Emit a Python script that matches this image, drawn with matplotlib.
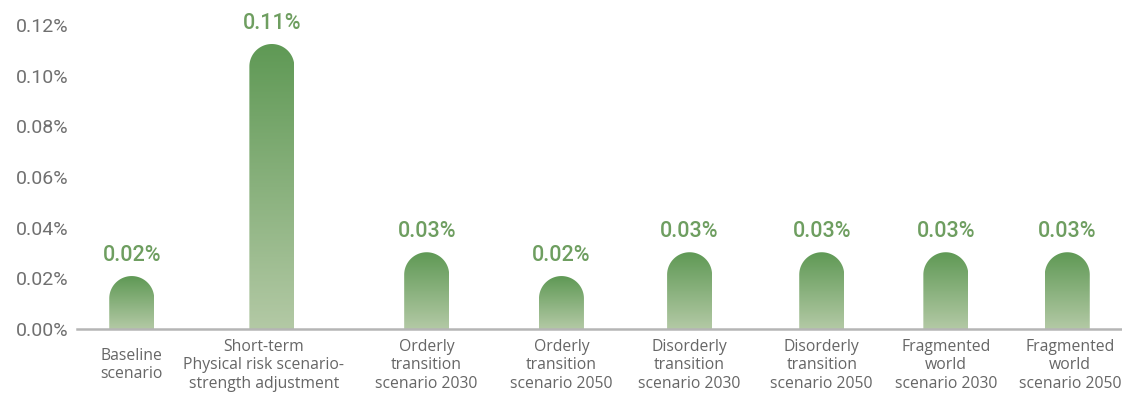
import numpy as np
import matplotlib
matplotlib.use("Agg")
import matplotlib.pyplot as plt
from matplotlib.path import Path
from matplotlib.patches import PathPatch
from matplotlib.colors import LinearSegmentedColormap
from matplotlib.ticker import FuncFormatter

# ---- data ----
categories = [
    "Baseline\nscenario",
    "Short-term\nPhysical risk scenario-\nstrength adjustment",
    "Orderly\ntransition\nscenario 2030",
    "Orderly\ntransition\nscenario 2050",
    "Disorderly\ntransition\nscenario 2030",
    "Disorderly\ntransition\nscenario 2050",
    "Fragmented\nworld\nscenario 2030",
    "Fragmented\nworld\nscenario 2050",
]
values = [0.0209, 0.1125, 0.0303, 0.0209, 0.0303, 0.0303, 0.0303, 0.0303]
value_labels = ["0.02%", "0.11%", "0.03%", "0.02%", "0.03%", "0.03%", "0.03%", "0.03%"]
y_ticks = [0.00, 0.02, 0.04, 0.06, 0.08, 0.10, 0.12]

# ---- layout ----
positions = [0.0, 1.05, 2.21, 3.22, 4.18, 5.17, 6.10, 7.01]
label_pos = [0.0, 0.99, 2.21, 3.22, 4.18, 5.17, 6.10, 7.03]
bar_width = 0.337

W, H = 1122, 395
fig = plt.figure(figsize=(W / 100, H / 100), dpi=100)
ax_left, ax_right = 77, 1122
ax_bottom, ax_top = 329, 25
ax = fig.add_axes([ax_left / W, (H - ax_bottom) / H, (ax_right - ax_left) / W, (ax_bottom - ax_top) / H])
xmin, xmax = -0.41, 7.42
ymin, ymax = 0.0, 0.12
ax.set_xlim(xmin, xmax)
ax.set_ylim(ymin, ymax)

ppu_x = (ax_right - ax_left) / (xmax - xmin)
ppu_y = (ax_bottom - ax_top) / (ymax - ymin)

cmap = LinearSegmentedColormap.from_list("g", ["#b3c9a5", "#5f9955"])
grad = np.linspace(0, 1, 256).reshape(-1, 1)

for x, v in zip(positions, values):
    rx = bar_width / 2
    ry = rx * ppu_x / ppu_y
    x0, x1 = x - rx, x + rx
    yc = v - ry
    theta = np.linspace(0, np.pi, 60)
    arc_x = x + rx * np.cos(theta)
    arc_y = yc + ry * np.sin(theta)
    verts = [(x0, 0), (x1, 0), (x1, yc)] + list(zip(arc_x[1:], arc_y[1:])) + [(x0, 0)]
    codes = [Path.MOVETO] + [Path.LINETO] * (len(verts) - 2) + [Path.CLOSEPOLY]
    patch = PathPatch(Path(verts, codes), facecolor="none", edgecolor="none")
    ax.add_patch(patch)
    im = ax.imshow(grad, cmap=cmap, origin="lower", extent=[x0, x1, 0, v],
                   aspect="auto", interpolation="bicubic", zorder=2)
    im.set_clip_path(patch)

for x, v, lab in zip(positions, values, value_labels):
    ax.annotate(lab, xy=(x, v), xytext=(0, 7.5), textcoords="offset points",
                ha="center", va="bottom", color="#6e9e60", fontsize=15.5,
                fontfamily="Roboto", fontweight="medium", clip_on=False)

ax.set_xlim(xmin, xmax)
ax.set_ylim(ymin, ymax)
ax.set_yticks(y_ticks)
ax.yaxis.set_major_formatter(FuncFormatter(lambda v, p: f"{v:.2f}%"))
for t in ax.get_yticklabels():
    t.set_fontfamily("Roboto")
    t.set_fontsize(14)
    t.set_color("#707070")
ax.tick_params(axis="y", length=0, pad=6)
ax.set_xticks([])
for s in ["top", "right", "left"]:
    ax.spines[s].set_visible(False)
ax.spines["bottom"].set_color("#b5b5b5")
ax.spines["bottom"].set_linewidth(1.8)
ax.spines["bottom"].set_zorder(3)

for x, c in zip(label_pos, categories):
    ax.annotate(c, xy=(x, 0), xytext=(0, -26), textcoords="offset points",
                ha="center", va="center", color="#666666", fontsize=11.3,
                fontfamily="Open Sans", linespacing=1.2, annotation_clip=False)

fig.savefig("out.png", dpi=100)
